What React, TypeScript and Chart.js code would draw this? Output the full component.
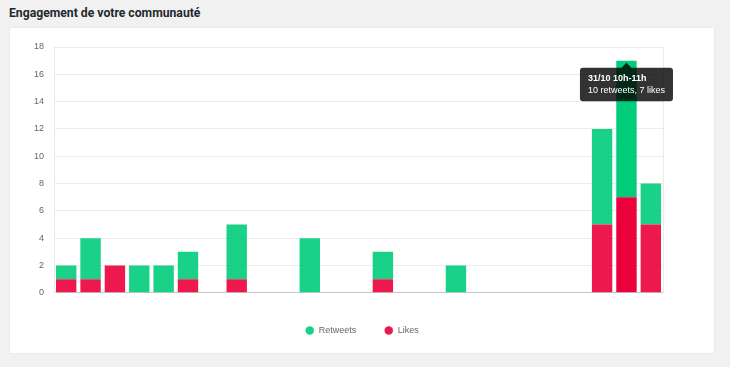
import React, { useEffect, useRef } from "react";
import { Chart, registerables } from "chart.js";

Chart.register(...registerables);

const TITLE = "Engagement de votre communauté";

const labels = [
  "30/10 11h-12h", "30/10 12h-13h", "30/10 13h-14h", "30/10 14h-15h", "30/10 15h-16h",
  "30/10 16h-17h", "30/10 17h-18h", "30/10 18h-19h", "30/10 19h-20h", "30/10 20h-21h",
  "30/10 21h-22h", "30/10 22h-23h", "30/10 23h-0h", "31/10 0h-1h", "31/10 1h-2h",
  "31/10 2h-3h", "31/10 3h-4h", "31/10 4h-5h", "31/10 5h-6h", "31/10 6h-7h",
  "31/10 7h-8h", "31/10 8h-9h", "31/10 9h-10h", "31/10 10h-11h", "31/10 11h-12h",
];

const retweets = [1, 3, 0, 2, 2, 2, 0, 4, 0, 0, 4, 0, 0, 2, 0, 0, 2, 0, 0, 0, 0, 0, 7, 10, 3];
const likes = [1, 1, 2, 0, 0, 1, 0, 1, 0, 0, 0, 0, 0, 1, 0, 0, 0, 0, 0, 0, 0, 0, 5, 7, 5];

const seriesNames = ["Likes", "Retweets"];
const yMax = 18;
const yStep = 2;
const highlightIndex = 23;

export default function App() {
  const canvasRef = useRef<HTMLCanvasElement | null>(null);

  useEffect(() => {
    const canvas = canvasRef.current;
    if (!canvas) return;
    Chart.defaults.font.family = 'Arial, "Liberation Sans", Helvetica, sans-serif';
    Chart.defaults.font.size = 9;
    Chart.defaults.color = "#666";

    const chart = new Chart(canvas, {
      type: "bar",
      data: {
        labels,
        datasets: [
          {
            label: seriesNames[0],
            data: likes,
            backgroundColor: "rgba(235,0,59,0.9)",
            hoverBackgroundColor: "rgb(235,0,59)",
            borderWidth: 0,
            barPercentage: 0.93,
            categoryPercentage: 0.9,
          },
          {
            label: seriesNames[1],
            data: retweets,
            backgroundColor: "rgba(0,204,122,0.9)",
            hoverBackgroundColor: "rgb(0,204,122)",
            borderWidth: 0,
            barPercentage: 0.93,
            categoryPercentage: 0.9,
          },
        ],
      },
      options: {
        responsive: false,
        animation: false,
        events: [],
        layout: { padding: { left: 14, right: 14, top: 19, bottom: 8 } },
        scales: {
          x: {
            stacked: true,
            ticks: { display: false },
            grid: { display: false },
            border: { display: true, color: "#c8c8c8" },
            afterFit: (s: any) => {
              s.height = 0;
            },
          },
          y: {
            stacked: true,
            min: 0,
            max: yMax,
            ticks: { stepSize: yStep, padding: 10, color: "#666", font: { size: 9 } },
            grid: { color: "#ebebeb", drawTicks: false },
            border: { color: "#ebebeb" },
          },
          y2: {
            type: "linear",
            position: "right",
            min: 0,
            max: yMax,
            ticks: { display: false },
            grid: { display: false },
            border: { display: true, color: "#ebebeb" },
            afterFit: (s: any) => {
              s.width = 37;
            },
          },
        },
        plugins: {
          legend: {
            position: "bottom",
            title: { display: true, text: "", font: { size: 1 }, padding: { top: 0, bottom: 4 } },
            labels: {
              usePointStyle: true,
              pointStyle: "circle",
              boxWidth: 9,
              boxHeight: 6,
              padding: 28,
              color: "#666",
              font: { size: 9 },
              sort: (a: any, b: any) => b.datasetIndex - a.datasetIndex,
            },
          },
          tooltip: {
            enabled: true,
            mode: "index",
            position: "nearest",
            yAlign: "top",
            xAlign: "center",
            backgroundColor: "rgba(0,0,0,0.8)",
            titleFont: { size: 9, weight: "bold" },
            bodyFont: { size: 9 },
            titleColor: "#fff",
            bodyColor: "#fff",
            padding: { x: 8, y: 5 },
            titleMarginBottom: 2,
            cornerRadius: 3,
            caretSize: 5,
            caretPadding: 2,
            displayColors: false,
            filter: (item: any) => item.datasetIndex === 1,
            callbacks: {
              title: (items: any[]) => (items.length ? labels[items[0].dataIndex] : ""),
              label: (item: any) =>
                `${retweets[item.dataIndex]} retweets, ${likes[item.dataIndex]} likes`,
            },
          },
        },
      } as any,
    });

    const active = [
      { datasetIndex: 0, index: highlightIndex },
      { datasetIndex: 1, index: highlightIndex },
    ];
    const el: any = chart.getDatasetMeta(1).data[highlightIndex];
    const pos = { x: el.x, y: el.y };
    chart.setActiveElements(active);
    chart.tooltip?.setActiveElements(active, pos);
    chart.update();

    return () => chart.destroy();
  }, []);

  return (
    <div
      style={{
        position: "fixed",
        left: 0,
        top: 0,
        width: 730,
        height: 367,
        background: "#f1f1f1",
        overflow: "hidden",
      }}
    >
      <div
        style={{
          position: "absolute",
          left: 9,
          top: 4,
          lineHeight: "18px",
          fontFamily: "Roboto, Arial, sans-serif",
          fontWeight: 700,
          fontSize: "12.2px",
          color: "#23282d",
          whiteSpace: "nowrap",
        }}
      >
        {TITLE}
      </div>
      <div
        style={{
          position: "absolute",
          left: 10,
          top: 28,
          width: 704,
          height: 325,
          background: "#fff",
          boxShadow: "0 0 1px rgba(0,0,0,0.15)",
        }}
      >
        <canvas
          ref={canvasRef}
          width={704}
          height={325}
          style={{ display: "block", width: 704, height: 325 }}
        />
      </div>
    </div>
  );
}
